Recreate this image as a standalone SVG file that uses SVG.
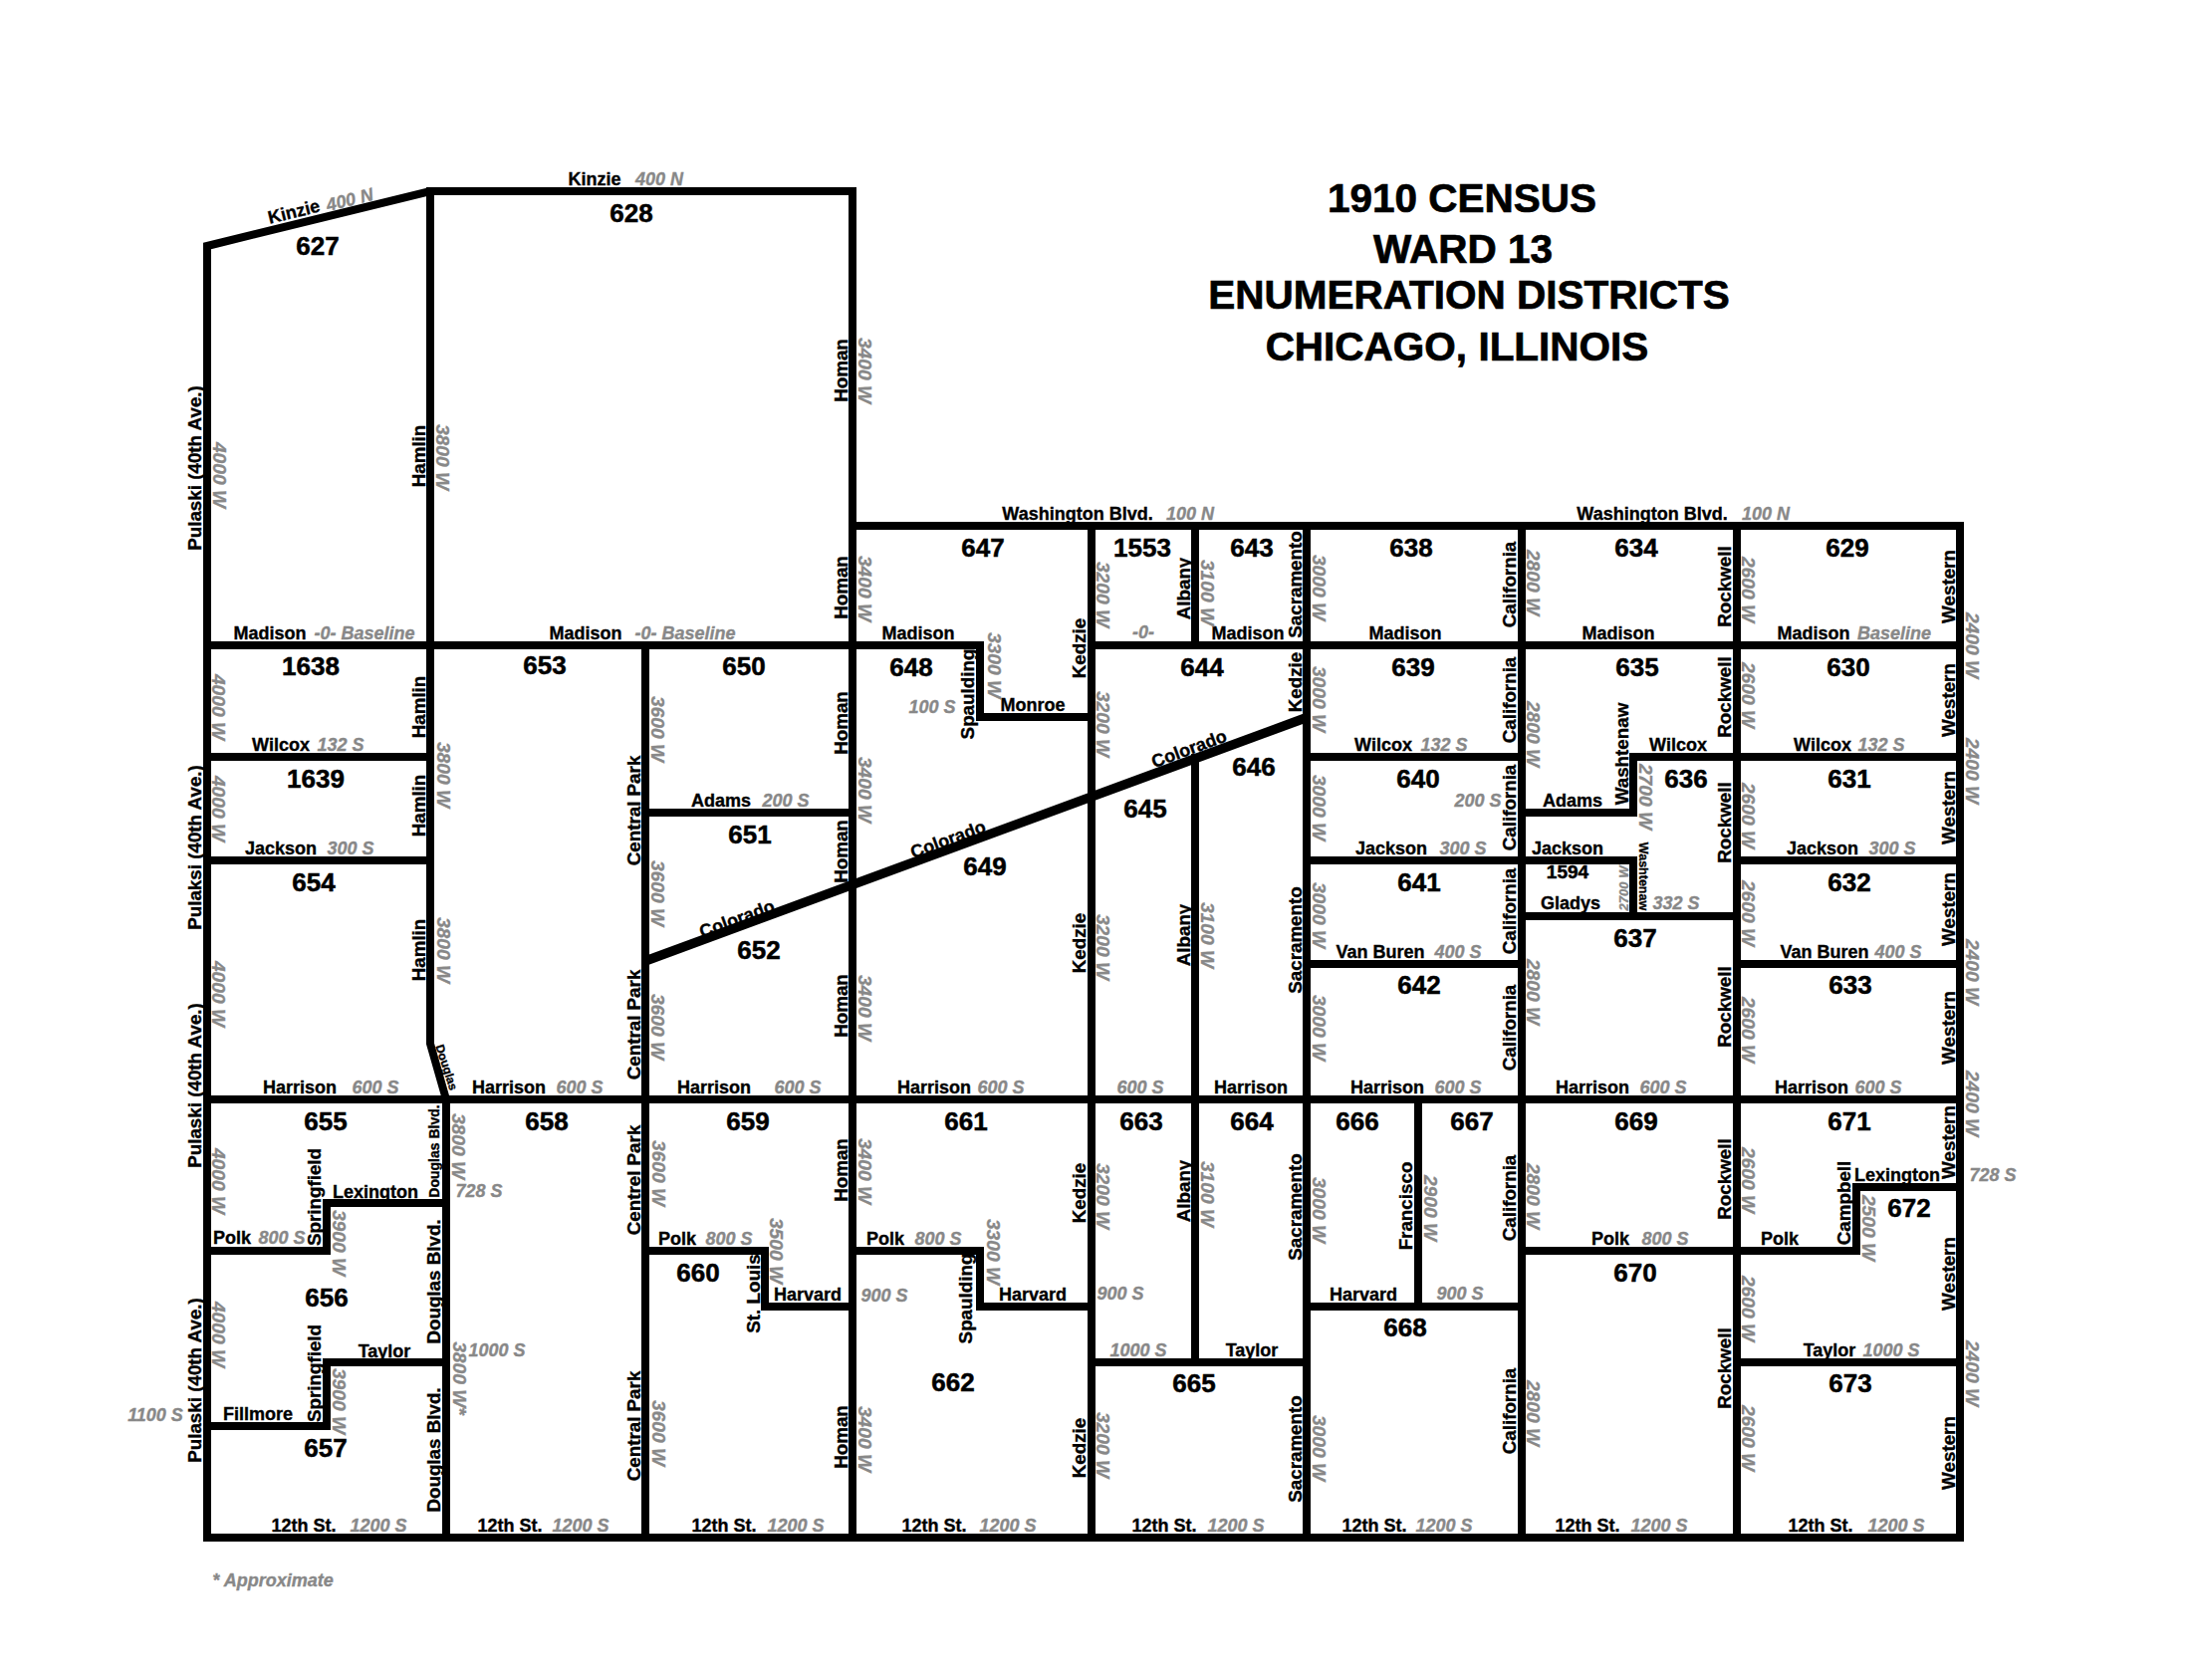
<svg xmlns="http://www.w3.org/2000/svg" width="2200" height="1687" viewBox="0 0 2200 1687">
<style>
text{font-family:"Liberation Sans",Arial,sans-serif;font-weight:bold;text-anchor:middle}
.n{font-size:26px;fill:#000;stroke:#000;stroke-width:.5px}
.t{font-size:40.5px;fill:#000;stroke:#000;stroke-width:.7px}
.b{font-size:18px;fill:#000;stroke:#000;stroke-width:.35px}
.g{font-size:18px;fill:#888;stroke:#888;stroke-width:.35px;font-style:italic}
text.b[transform*="rotate(-90"]{font-size:18.8px}
text.g[transform*="rotate(90"]{font-size:19.2px}
.road{fill:none;stroke:#000;stroke-width:8;stroke-linecap:square;stroke-linejoin:miter}
.diag{stroke-width:9.5;stroke-linecap:butt}
</style>
<rect width="2200" height="1687" fill="#fff"/>
<g id="connectors">
<path class="road" d="M208 1544V247L432 192H856V1544M432 192V1048L448 1104V1544M856 528H1968V1544H208M208 648H984M1096 648H1968M208 1104H1968"/>
<path class="road" d="M1096 528V1544M1312 528V1544M1528 528V1544M1744 528V1544M648 648V1544M1200 528V648M1200 761V1368"/>
<path class="road" d="M208 760H432M208 864H432M648 816H856M856 1256H984V1312H1096M984 648V720H1096"/>
<path class="road diag" d="M648 965L1312 720.5"/>
<path class="road" d="M1312 760H1528M1312 864H1528M1312 968H1528M1744 760H1968M1744 864H1968M1744 968H1968"/>
<path class="road" d="M1744 760H1640V816H1528M1528 864H1640V920M1528 920H1744"/>
<path class="road" d="M208 1256H328V1208H448M208 1432H328V1368H448M648 1256H768V1312H856"/>
<path class="road" d="M1096 1368H1312M1312 1312H1528M1424 1104V1312M1528 1256H1864V1192H1968M1744 1368H1968"/>
</g>
<g id="title">
<text class="t" x="1468" y="213">1910 CENSUS</text>
<text class="t" x="1469" y="264">WARD 13</text>
<text class="t" x="1475" y="310">ENUMERATION DISTRICTS</text>
<text class="t" x="1463" y="362">CHICAGO, ILLINOIS</text>
</g>
<g id="districts">
<text class="n" x="319" y="256">627</text><text class="n" x="634" y="223">628</text>
<text class="n" x="312" y="678">1638</text><text class="n" x="547" y="677">653</text><text class="n" x="747" y="678">650</text>
<text class="n" x="317" y="791">1639</text><text class="n" x="315" y="895">654</text><text class="n" x="753" y="847">651</text><text class="n" x="762" y="963">652</text>
<text class="n" x="327" y="1135">655</text><text class="n" x="549" y="1135">658</text><text class="n" x="751" y="1135">659</text>
<text class="n" x="328" y="1312">656</text><text class="n" x="701" y="1287">660</text><text class="n" x="327" y="1463">657</text>
<text class="n" x="987" y="559">647</text><text class="n" x="1147" y="559">1553</text><text class="n" x="1257" y="559">643</text><text class="n" x="1417" y="559">638</text>
<text class="n" x="915" y="679">648</text><text class="n" x="1207" y="679">644</text><text class="n" x="1419" y="679">639</text><text class="n" x="1259" y="779">646</text>
<text class="n" x="1424" y="791">640</text><text class="n" x="1150" y="821">645</text><text class="n" x="989" y="879">649</text><text class="n" x="1425" y="895">641</text><text class="n" x="1425" y="998">642</text>
<text class="n" x="1643" y="559">634</text><text class="n" x="1855" y="559">629</text><text class="n" x="1644" y="679">635</text><text class="n" x="1856" y="679">630</text>
<text class="n" x="1693" y="791">636</text><text class="n" x="1857" y="791">631</text><text class="n" x="1574" y="882" style="font-size:19px">1594</text>
<text class="n" x="1857" y="895">632</text><text class="n" x="1642" y="951">637</text><text class="n" x="1858" y="998">633</text>
<text class="n" x="970" y="1135">661</text><text class="n" x="1146" y="1135">663</text><text class="n" x="1257" y="1135">664</text><text class="n" x="1363" y="1135">666</text><text class="n" x="1478" y="1135">667</text>
<text class="n" x="1411" y="1342">668</text><text class="n" x="957" y="1397">662</text><text class="n" x="1199" y="1398">665</text>
<text class="n" x="1643" y="1135">669</text><text class="n" x="1857" y="1135">671</text><text class="n" x="1917" y="1222">672</text><text class="n" x="1642" y="1287">670</text><text class="n" x="1858" y="1398">673</text>
</g>
<g id="street-names">
<text class="b" x="597" y="186">Kinzie</text>
<text class="b" transform="translate(296.5 218.5) rotate(-13.8)">Kinzie</text>
<text class="b" x="271" y="642">Madison</text><text class="b" x="588" y="642">Madison</text>
<text class="b" x="282" y="754">Wilcox</text><text class="b" x="282" y="858">Jackson</text><text class="b" x="724" y="810">Adams</text>
<text class="b" x="301" y="1098">Harrison</text><text class="b" x="511" y="1098">Harrison</text><text class="b" x="717" y="1098">Harrison</text>
<text class="b" transform="translate(742 928.3) rotate(-20.3)">Colorado</text>
<text class="b" transform="translate(954 848.6) rotate(-20.3)">Colorado</text>
<text class="b" transform="translate(1196 757.6) rotate(-20.3)">Colorado</text>
<text class="b" style="font-size:12px" transform="translate(444.5 1073) rotate(72)">Douglas</text>
<text class="b" x="377" y="1203">Lexington</text><text class="b" x="233" y="1249">Polk</text><text class="b" x="680" y="1250">Polk</text><text class="b" x="811" y="1306">Harvard</text>
<text class="b" x="386" y="1363">Taylor</text><text class="b" x="259" y="1426">Fillmore</text>
<text class="b" x="305" y="1538">12th St.</text><text class="b" x="512" y="1538">12th St.</text><text class="b" x="727" y="1538">12th St.</text>
<text class="b" x="1082" y="522">Washington Blvd.</text><text class="b" x="922" y="642">Madison</text><text class="b" x="1037" y="714">Monroe</text>
<text class="b" x="1253" y="642">Madison</text><text class="b" x="1411" y="642">Madison</text><text class="b" x="1389" y="754">Wilcox</text><text class="b" x="1397" y="858">Jackson</text>
<text class="b" x="1386" y="962">Van Buren</text><text class="b" x="938" y="1098">Harrison</text><text class="b" x="1256" y="1098">Harrison</text><text class="b" x="1393" y="1098">Harrison</text>
<text class="b" x="1659" y="522">Washington Blvd.</text><text class="b" x="1625" y="642">Madison</text><text class="b" x="1821" y="642">Madison</text>
<text class="b" x="1685" y="754">Wilcox</text><text class="b" x="1830" y="754">Wilcox</text><text class="b" x="1579" y="810">Adams</text><text class="b" x="1574" y="858">Jackson</text><text class="b" x="1830" y="858">Jackson</text>
<text class="b" x="1577" y="913">Gladys</text><text class="b" x="1832" y="962">Van Buren</text><text class="b" x="1599" y="1098">Harrison</text><text class="b" x="1819" y="1098">Harrison</text>
<text class="b" x="889" y="1250">Polk</text><text class="b" x="1037" y="1306">Harvard</text><text class="b" x="1369" y="1306">Harvard</text><text class="b" x="1257" y="1362">Taylor</text>
<text class="b" x="938" y="1538">12th St.</text><text class="b" x="1169" y="1538">12th St.</text><text class="b" x="1380" y="1538">12th St.</text>
<text class="b" x="1617" y="1250">Polk</text><text class="b" x="1905" y="1186">Lexington</text><text class="b" x="1787" y="1250">Polk</text><text class="b" x="1837" y="1362">Taylor</text>
<text class="b" x="1594" y="1538">12th St.</text><text class="b" x="1828" y="1538">12th St.</text>
<text class="b" transform="translate(201.5 470) rotate(-90)">Pulaski (40th Ave.)</text>
<text class="b" transform="translate(201.5 851) rotate(-90)">Pulaksi (40th Ave.)</text>
<text class="b" transform="translate(201.5 1090) rotate(-90)">Pulaski (40th Ave.)</text>
<text class="b" transform="translate(201.5 1386) rotate(-90)">Pulaski (40th Ave.)</text>
<text class="b" transform="translate(426.5 458) rotate(-90)">Hamlin</text><text class="b" transform="translate(426.5 710) rotate(-90)">Hamlin</text>
<text class="b" transform="translate(426.5 809) rotate(-90)">Hamlin</text><text class="b" transform="translate(426.5 954) rotate(-90)">Hamlin</text>
<text class="b" transform="translate(850.5 372) rotate(-90)">Homan</text><text class="b" transform="translate(850.5 590) rotate(-90)">Homan</text>
<text class="b" transform="translate(850.5 726) rotate(-90)">Homan</text><text class="b" transform="translate(850.5 855) rotate(-90)">Homan</text>
<text class="b" transform="translate(850.5 1010) rotate(-90)">Homan</text><text class="b" transform="translate(850.5 1175) rotate(-90)">Homan</text>
<text class="b" transform="translate(850.5 1443) rotate(-90)">Homan</text>
<text class="b" transform="translate(643 814) rotate(-90)">Central Park</text><text class="b" transform="translate(643 1029) rotate(-90)">Central Park</text>
<text class="b" transform="translate(643 1185) rotate(-90)">Centrel Park</text><text class="b" transform="translate(643 1432) rotate(-90)">Central Park</text>
<text class="b" transform="translate(763 1299) rotate(-90)">St. Louis</text>
<text class="b" transform="translate(321.5 1202) rotate(-90)">Springfield</text><text class="b" transform="translate(321.5 1379) rotate(-90)">Springfield</text>
<text class="b" style="font-size:14px" transform="translate(441 1156) rotate(-90)">Douglas Blvd.</text>
<text class="b" transform="translate(442 1287) rotate(-90)">Douglas Blvd.</text><text class="b" transform="translate(442 1456) rotate(-90)">Douglas Blvd.</text>
<text class="b" transform="translate(1090 651) rotate(-90)">Kedzie</text><text class="b" transform="translate(1090 947) rotate(-90)">Kedzie</text>
<text class="b" transform="translate(1090 1198) rotate(-90)">Kedzie</text><text class="b" transform="translate(1090 1454) rotate(-90)">Kedzie</text>
<text class="b" transform="translate(1195 591) rotate(-90)">Albany</text><text class="b" transform="translate(1195 939) rotate(-90)">Albany</text><text class="b" transform="translate(1195 1196) rotate(-90)">Albany</text>
<text class="b" transform="translate(1306.5 587) rotate(-90)">Sacramento</text><text class="b" transform="translate(1306.5 685) rotate(-90)">Kedzie</text>
<text class="b" transform="translate(1306.5 944) rotate(-90)">Sacramento</text><text class="b" transform="translate(1306.5 1212) rotate(-90)">Sacramento</text><text class="b" transform="translate(1306.5 1455) rotate(-90)">Sacramento</text>
<text class="b" transform="translate(1522 587) rotate(-90)">California</text><text class="b" transform="translate(1522 703) rotate(-90)">California</text><text class="b" transform="translate(1522 811) rotate(-90)">California</text>
<text class="b" transform="translate(1522 915) rotate(-90)">California</text><text class="b" transform="translate(1522 1032) rotate(-90)">California</text><text class="b" transform="translate(1522 1203) rotate(-90)">California</text><text class="b" transform="translate(1522 1417) rotate(-90)">California</text>
<text class="b" transform="translate(978 697) rotate(-90)">Spaulding</text><text class="b" transform="translate(976 1304) rotate(-90)">Spaulding</text>
<text class="b" transform="translate(1418 1211) rotate(-90)">Francisco</text>
<text class="b" transform="translate(1738 589) rotate(-90)">Rockwell</text><text class="b" transform="translate(1738 700) rotate(-90)">Rockwell</text><text class="b" transform="translate(1738 826) rotate(-90)">Rockwell</text>
<text class="b" transform="translate(1738 1011) rotate(-90)">Rockwell</text><text class="b" transform="translate(1738 1184) rotate(-90)">Rockwell</text><text class="b" transform="translate(1738 1374) rotate(-90)">Rockwell</text>
<text class="b" transform="translate(1963 589) rotate(-90)">Western</text><text class="b" transform="translate(1963 703) rotate(-90)">Western</text><text class="b" transform="translate(1963 811) rotate(-90)">Western</text>
<text class="b" transform="translate(1963 913) rotate(-90)">Western</text><text class="b" transform="translate(1963 1032) rotate(-90)">Western</text><text class="b" transform="translate(1963 1147) rotate(-90)">Western</text>
<text class="b" transform="translate(1963 1279) rotate(-90)">Western</text><text class="b" transform="translate(1963 1459) rotate(-90)">Western</text>
<text class="b" transform="translate(1634.5 757) rotate(-90)">Washtenaw</text>
<text class="b" style="font-size:12.5px" transform="translate(1645.7 880) rotate(90)">Washtenaw</text>
<text class="b" transform="translate(1858 1208) rotate(-90)">Campbell</text>
</g>
<g id="address-numbers">
<text class="g" x="662" y="186">400 N</text>
<text class="g" transform="translate(352.5 206.5) rotate(-13.8)">400 N</text>
<text class="g" x="366" y="642">-0- Baseline</text><text class="g" x="688" y="642">-0- Baseline</text>
<text class="g" x="342" y="754">132 S</text><text class="g" x="352" y="858">300 S</text><text class="g" x="789" y="810">200 S</text>
<text class="g" x="377" y="1098">600 S</text><text class="g" x="582" y="1098">600 S</text><text class="g" x="801" y="1098">600 S</text>
<text class="g" x="481" y="1202">728 S</text><text class="g" x="283" y="1249">800 S</text><text class="g" x="732" y="1250">800 S</text>
<text class="g" x="499" y="1362">1000 S</text><text class="g" x="156" y="1427">1100 S</text>
<text class="g" x="380" y="1538">1200 S</text><text class="g" x="583" y="1538">1200 S</text><text class="g" x="799" y="1538">1200 S</text>
<text class="g" x="274" y="1593">* Approximate</text>
<text class="g" x="1195" y="522">100 N</text><text class="g" x="936" y="716">100 S</text><text class="g" x="1148" y="641">-0-</text>
<text class="g" x="1450" y="754">132 S</text><text class="g" x="1484" y="810">200 S</text><text class="g" x="1469" y="858">300 S</text><text class="g" x="1464" y="962">400 S</text>
<text class="g" x="1005" y="1098">600 S</text><text class="g" x="1145" y="1098">600 S</text><text class="g" x="1464" y="1098">600 S</text>
<text class="g" x="1773" y="522">100 N</text><text class="g" x="1902" y="642">Baseline</text><text class="g" x="1889" y="754">132 S</text><text class="g" x="1900" y="858">300 S</text>
<text class="g" x="1683" y="913">332 S</text><text class="g" x="1906" y="962">400 S</text><text class="g" x="1670" y="1098">600 S</text><text class="g" x="1886" y="1098">600 S</text>
<text class="g" x="942" y="1250">800 S</text><text class="g" x="888" y="1307">900 S</text><text class="g" x="1125" y="1305">900 S</text><text class="g" x="1466" y="1305">900 S</text><text class="g" x="1143" y="1362">1000 S</text>
<text class="g" x="1012" y="1538">1200 S</text><text class="g" x="1241" y="1538">1200 S</text><text class="g" x="1450" y="1538">1200 S</text>
<text class="g" x="1672" y="1250">800 S</text><text class="g" x="2001" y="1186">728 S</text><text class="g" x="1899" y="1362">1000 S</text><text class="g" x="1666" y="1538">1200 S</text><text class="g" x="1904" y="1538">1200 S</text>
<text class="g" transform="translate(214 477) rotate(90)">4000 W</text><text class="g" transform="translate(213 710) rotate(90)">4000 W</text><text class="g" transform="translate(213 812) rotate(90)">4000 W</text>
<text class="g" transform="translate(213 998) rotate(90)">4000 W</text><text class="g" transform="translate(213 1186) rotate(90)">4000 W</text><text class="g" transform="translate(213 1340) rotate(90)">4000 W</text>
<text class="g" transform="translate(334 1248) rotate(90)">3900 W</text><text class="g" transform="translate(334 1407) rotate(90)">3900 W</text>
<text class="g" transform="translate(438 459) rotate(90)">3800 W</text><text class="g" transform="translate(438.5 778) rotate(90)">3800 W</text><text class="g" transform="translate(438.5 954) rotate(90)">3800 W</text>
<text class="g" transform="translate(453.5 1151) rotate(90)">3800 W</text><text class="g" transform="translate(454.5 1384) rotate(90)">3800 W*</text>
<text class="g" transform="translate(654 732) rotate(90)">3600 W</text><text class="g" transform="translate(654 897) rotate(90)">3600 W</text><text class="g" transform="translate(654 1031) rotate(90)">3600 W</text>
<text class="g" transform="translate(654.5 1178) rotate(90)">3600 W</text><text class="g" transform="translate(654.5 1439) rotate(90)">3600 W</text>
<text class="g" transform="translate(773 1256) rotate(90)">3500 W</text>
<text class="g" transform="translate(862 372) rotate(90)">3400 W</text><text class="g" transform="translate(862 591) rotate(90)">3400 W</text><text class="g" transform="translate(862 793) rotate(90)">3400 W</text>
<text class="g" transform="translate(862 1012) rotate(90)">3400 W</text><text class="g" transform="translate(862 1176) rotate(90)">3400 W</text><text class="g" transform="translate(862 1445) rotate(90)">3400 W</text>
<text class="g" transform="translate(991.5 668) rotate(90)">3300 W</text><text class="g" transform="translate(990.5 1257) rotate(90)">3300 W</text>
<text class="g" transform="translate(1101 597) rotate(90)">3200 W</text><text class="g" transform="translate(1101 727) rotate(90)">3200 W</text><text class="g" transform="translate(1101 951) rotate(90)">3200 W</text>
<text class="g" transform="translate(1101 1201) rotate(90)">3200 W</text><text class="g" transform="translate(1101 1451) rotate(90)">3200 W</text>
<text class="g" transform="translate(1206 595) rotate(90)">3100 W</text><text class="g" transform="translate(1206 939) rotate(90)">3100 W</text><text class="g" transform="translate(1206 1199) rotate(90)">3100 W</text>
<text class="g" transform="translate(1318 590) rotate(90)">3000 W</text><text class="g" transform="translate(1318 702) rotate(90)">3000 W</text><text class="g" transform="translate(1318 811) rotate(90)">3000 W</text>
<text class="g" transform="translate(1318 919) rotate(90)">3000 W</text><text class="g" transform="translate(1318 1032) rotate(90)">3000 W</text><text class="g" transform="translate(1318 1215) rotate(90)">3000 W</text><text class="g" transform="translate(1318 1454) rotate(90)">3000 W</text>
<text class="g" transform="translate(1429.5 1213) rotate(90)">2900 W</text>
<text class="g" transform="translate(1533 585) rotate(90)">2800 W</text><text class="g" transform="translate(1533 737) rotate(90)">2800 W</text><text class="g" transform="translate(1533 996) rotate(90)">2800 W</text>
<text class="g" transform="translate(1533 1201) rotate(90)">2800 W</text><text class="g" transform="translate(1533 1419) rotate(90)">2800 W</text>
<text class="g" transform="translate(1645.7 800) rotate(90)">2700 W</text>
<text class="g" style="font-size:13px" transform="translate(1635 892) rotate(-90)">2700 W</text>
<text class="g" transform="translate(1749 592) rotate(90)">2600 W</text><text class="g" transform="translate(1749 698) rotate(90)">2600 W</text><text class="g" transform="translate(1749 819) rotate(90)">2600 W</text>
<text class="g" transform="translate(1749 917) rotate(90)">2600 W</text><text class="g" transform="translate(1749 1034) rotate(90)">2600 W</text><text class="g" transform="translate(1749 1185) rotate(90)">2600 W</text>
<text class="g" transform="translate(1749 1314) rotate(90)">2600 W</text><text class="g" transform="translate(1749 1444) rotate(90)">2600 W</text>
<text class="g" transform="translate(1870 1233) rotate(90)">2500 W</text>
<text class="g" transform="translate(1974 648) rotate(90)">2400 W</text><text class="g" transform="translate(1974 774) rotate(90)">2400 W</text><text class="g" transform="translate(1974 976) rotate(90)">2400 W</text>
<text class="g" transform="translate(1974 1108) rotate(90)">2400 W</text><text class="g" transform="translate(1974 1379) rotate(90)">2400 W</text>
</g>
</svg>
